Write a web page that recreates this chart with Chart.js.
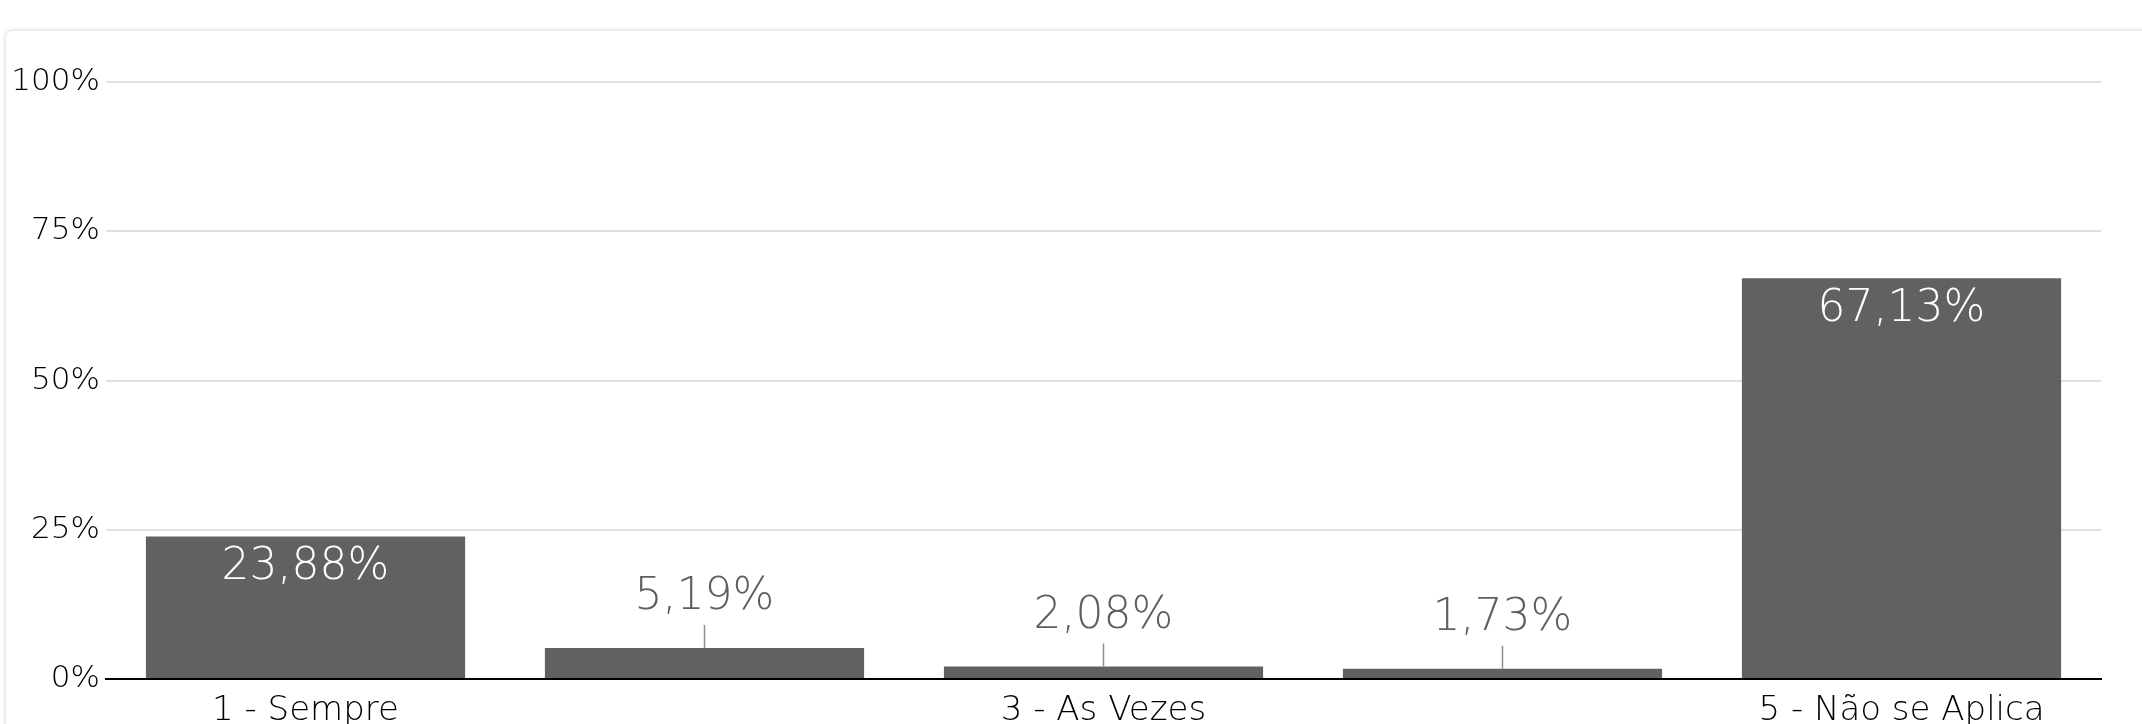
<!DOCTYPE html>
<html>
<head>
<meta charset="utf-8">
<script src="https://cdn.jsdelivr.net/npm/chart.js@4.4.0/dist/chart.umd.min.js"></script>
<style>
  html, body { margin: 0; padding: 0; background: #fff; overflow: hidden; }
  body { width: 2142px; height: 724px; position: relative; }
  .card {
    position: absolute; left: 6px; top: 31px; width: 2160px; height: 760px;
    border-radius: 6px; background: #fff;
    box-shadow: 0 0 4px rgba(0,0,0,0.22);
  }
  #wrap { position: absolute; left: 0; top: 0; width: 2142px; height: 739px; }
</style>
</head>
<body>
<div class="card"></div>
<div id="wrap"><canvas id="barChart"></canvas></div>
<script>
const categories = ["1 - Sempre", "2 - Quase Sempre", "3 - As Vezes", "4 - Raramente", "5 - Não se Aplica"];
const percentages = [23.88, 5.19, 2.08, 1.73, 67.13];
const yTicks = [0, 25, 50, 75, 100];

const FONT = '"DejaVu Sans", sans-serif';

function fmt(v) {
    return v.toFixed(2).replace('.', ',') + '%';
}

// value labels: white inside tall bars, grey above short ones with a little leader line
const valueLabels = {
    id: 'valueLabels',
    afterDatasetsDraw(chart) {
        const ctx = chart.ctx;
        const meta = chart.getDatasetMeta(0);
        ctx.save();
        ctx.font = '300 44px ' + FONT;
        ctx.textAlign = 'center';
        ctx.textBaseline = 'middle';
        meta.data.forEach((bar, i) => {
            const v = percentages[i];
            if (v > 10) {
                ctx.fillStyle = '#ffffff';
                ctx.fillText(fmt(v), bar.x, bar.y + 31);
            } else {
                ctx.strokeStyle = '#8f8f8f';
                ctx.lineWidth = 1.5;
                ctx.beginPath();
                ctx.moveTo(bar.x, bar.y);
                ctx.lineTo(bar.x, bar.y - 23);
                ctx.stroke();
                ctx.fillStyle = '#5e5e5e';
                ctx.fillText(fmt(v), bar.x, bar.y - 50);
            }
        });
        ctx.restore();
    }
};

const ctx = document.getElementById('barChart');
new Chart(ctx, {
    type: 'bar',
    data: {
        labels: categories,
        datasets: [{
            data: percentages,
            backgroundColor: '#616161',
            borderWidth: 0,
            barPercentage: 0.8,
            categoryPercentage: 1.0
        }]
    },
    options: {
        responsive: true,
        maintainAspectRatio: false,
        animation: false,
        layout: { padding: { left: 0, right: 41, top: 82, bottom: 0 } },
        plugins: { legend: { display: false }, tooltip: { enabled: false } },
        scales: {
            x: {
                grid: { display: false, drawTicks: false },
                border: { color: '#000', width: 2 },
                afterFit(scale) { scale.height = 60; },
                ticks: {
                    autoSkip: false,
                    maxRotation: 0,
                    padding: 12,
                    color: '#000',
                    font: { family: FONT, size: 34, weight: 300 },
                    callback(val, idx) { return idx % 2 === 0 ? categories[idx] : ''; }
                }
            },
            y: {
                min: 0, max: 100,
                afterFit(scale) { scale.width = 106; },
                afterBuildTicks(scale) { scale.ticks = yTicks.map(v => ({ value: v })); },
                grid: { color: '#e0e0e0', lineWidth: 2, drawTicks: false },
                border: { display: false },
                ticks: {
                    padding: 6,
                    color: '#000',
                    font: { family: FONT, size: 31, weight: 300 },
                    callback(v) { return v + '%'; }
                }
            }
        }
    },
    plugins: [valueLabels]
});
</script>
</body>
</html>
